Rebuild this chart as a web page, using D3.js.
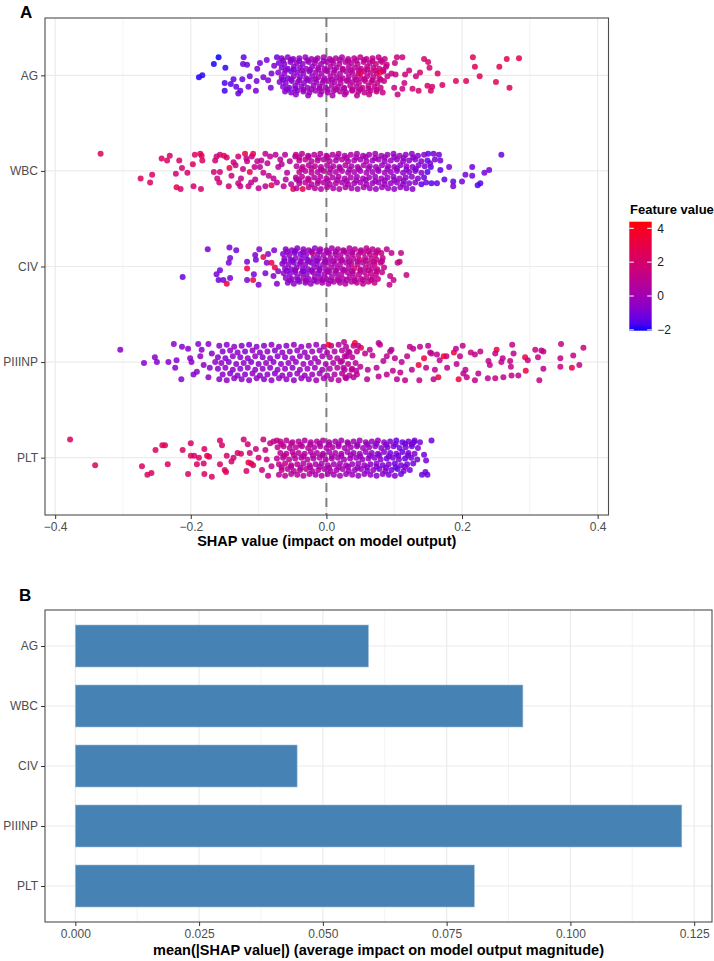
<!DOCTYPE html>
<html>
<head>
<meta charset="utf-8">
<script src="https://d3js.org/d3.v7.min.js"></script>
<style>
  body { margin: 0; background: #fff; }
  svg text { font-family: "Liberation Sans", Arial, sans-serif; }
</style>
</head>
<body>
<div id="chart"></div>
<script>
// features, top to bottom
var features = ["AG", "WBC", "CIV", "PIIINP", "PLT"];
// panel B: mean(|SHAP|) per feature
var meanAbsShap = [0.0592, 0.0904, 0.0448, 0.1225, 0.0806];

var shapTicks = [-0.4, -0.2, 0, 0.2, 0.4];
var shapMinor = [-0.3, -0.1, 0.1, 0.3];
var barTicks = [0, 0.025, 0.05, 0.075, 0.1, 0.125];
var barMinor = [0.0125, 0.0375, 0.0625, 0.0875, 0.1125];
var legendTicks = [-2, 0, 2, 4];

// panel A points: [shap value, vertical jitter, feature value]
var agPoints = [
  [-0.188,-0.02,-2.0],[-0.183,0.00,-1.9],[-0.166,0.12,-2.0],[-0.159,0.19,-2.1],[-0.149,0.08,-1.9],[-0.150,-0.08,-1.7],[-0.150,-0.16,-1.8],
  [-0.137,-0.04,-1.4],[-0.141,-0.09,-1.5],[-0.133,-0.12,-1.3],[-0.130,-0.19,-1.2],[-0.127,-0.16,-1.3],[-0.124,-0.04,-1.3],[-0.122,0.19,-1.4],
  [-0.123,0.12,-1.2],[-0.117,0.11,-1.2],[-0.115,-0.12,-1.1],[-0.113,-0.01,-1.2],[-0.104,-0.16,-1.0],[-0.103,-0.06,-1.1],[-0.102,0.07,-1.0],
  [-0.098,0.13,-1.1],[-0.093,-0.02,-0.9],[-0.088,0.16,-1.0],[-0.086,-0.05,-0.8],[-0.082,-0.13,-0.9],[-0.073,0.19,-1.2],[-0.077,0.10,-0.8],[-0.081,0.02,-1.0],
  [-0.066,0.18,-0.8],[-0.057,0.19,-0.5],[-0.049,0.17,-0.9],[-0.040,0.18,-0.3],[-0.031,0.19,-0.4],[-0.022,0.17,-0.1],[-0.013,0.18,0.1],[-0.004,0.19,0.3],[0.005,0.17,0.2],[0.014,0.18,0.5],[0.023,0.19,0.4],[0.032,0.17,0.8],[0.041,0.18,0.7],[0.050,0.19,1.0],[0.059,0.17,0.9],[0.068,0.18,1.2],[0.077,0.19,1.1],[0.086,0.17,1.3],
  [-0.070,0.13,-1.0],[-0.062,0.12,-0.6],[-0.053,0.14,-0.7],[-0.044,0.13,-0.4],[-0.035,0.12,-0.6],[-0.026,0.14,-0.2],[-0.017,0.13,0.0],[-0.008,0.12,-0.1],[0.001,0.14,0.3],[0.010,0.13,0.4],[0.019,0.12,0.6],[0.028,0.14,0.5],[0.037,0.13,0.8],[0.046,0.12,0.9],[0.055,0.14,1.1],[0.064,0.13,1.0],[0.073,0.12,1.3],[0.082,0.14,1.2],
  [-0.066,0.08,-0.9],[-0.057,0.07,-1.2],[-0.048,0.09,-0.5],[-0.039,0.08,-0.7],[-0.030,0.07,-0.2],[-0.021,0.09,-0.4],[-0.012,0.08,0.1],[-0.003,0.07,0.0],[0.006,0.09,0.4],[0.015,0.08,0.3],[0.024,0.07,0.7],[0.033,0.09,0.6],[0.042,0.08,0.9],[0.051,0.07,0.8],[0.060,0.09,1.1],[0.069,0.08,1.4],[0.078,0.07,1.2],[0.088,0.09,1.3],
  [-0.071,0.03,-0.7],[-0.062,0.02,-0.4],[-0.052,0.04,-1.1],[-0.043,0.03,-0.6],[-0.034,0.02,-0.3],[-0.025,0.04,-0.5],[-0.016,0.03,-0.1],[-0.007,0.02,0.2],[0.002,0.04,0.1],[0.011,0.03,0.5],[0.020,0.02,0.4],[0.029,0.04,0.7],[0.038,0.03,0.6],[0.047,0.02,1.0],[0.056,0.04,0.9],[0.065,0.03,1.2],[0.074,0.02,1.1],[0.084,0.04,1.4],
  [-0.066,-0.02,-0.6],[-0.057,-0.03,-1.0],[-0.048,-0.01,-0.4],[-0.039,-0.02,-0.8],[-0.030,-0.03,-0.2],[-0.021,-0.01,-0.3],[-0.012,-0.02,0.0],[-0.003,-0.03,0.2],[0.006,-0.01,0.3],[0.015,-0.02,0.2],[0.024,-0.03,0.6],[0.033,-0.01,0.5],[0.042,-0.02,0.8],[0.051,-0.03,1.0],[0.060,-0.01,0.9],[0.069,-0.02,1.1],[0.078,-0.03,1.3],[0.090,-0.01,1.2],
  [-0.069,-0.07,-0.8],[-0.060,-0.08,-0.5],[-0.051,-0.06,-0.9],[-0.042,-0.07,-0.3],[-0.033,-0.08,-0.6],[-0.024,-0.06,-0.1],[-0.015,-0.07,-0.2],[-0.006,-0.08,0.2],[0.003,-0.06,0.1],[0.012,-0.07,0.4],[0.021,-0.08,0.5],[0.030,-0.06,0.7],[0.039,-0.07,0.6],[0.048,-0.08,0.9],[0.057,-0.06,1.0],[0.066,-0.07,1.1],[0.075,-0.08,1.2],[0.085,-0.06,1.4],
  [-0.064,-0.12,-0.7],[-0.055,-0.13,-1.1],[-0.046,-0.11,-0.4],[-0.037,-0.12,-0.5],[-0.028,-0.13,-0.2],[-0.019,-0.11,-0.4],[-0.010,-0.12,0.1],[-0.001,-0.13,0.0],[0.008,-0.11,0.3],[0.017,-0.12,0.5],[0.026,-0.13,0.4],[0.035,-0.11,0.8],[0.044,-0.12,0.7],[0.053,-0.13,1.0],[0.062,-0.11,1.1],[0.071,-0.12,1.0],[0.080,-0.13,1.3],
  [-0.061,-0.17,-0.6],[-0.052,-0.18,-0.9],[-0.043,-0.16,-0.3],[-0.034,-0.17,-0.5],[-0.025,-0.18,-0.1],[-0.016,-0.16,0.0],[-0.007,-0.17,0.2],[0.002,-0.18,0.1],[0.011,-0.16,0.4],[0.020,-0.17,0.6],[0.029,-0.18,0.5],[0.038,-0.16,0.8],[0.047,-0.17,0.9],[0.056,-0.18,1.1],[0.065,-0.16,1.0],[0.074,-0.17,1.2],
  [-0.045,-0.20,-0.5],[-0.027,-0.21,-0.3],[-0.009,-0.20,0.0],[0.009,-0.21,0.3],[0.027,-0.20,0.6],[0.045,-0.21,0.8],[0.063,-0.20,1.1],
  [-0.064,0.155,-0.7],[-0.052,0.16,-0.4],[-0.040,0.15,-0.6],[-0.028,0.155,-0.2],[-0.016,0.16,0.0],[-0.004,0.15,-0.1],[0.008,0.155,0.4],[0.020,0.16,0.3],[0.032,0.15,0.7],[0.044,0.155,0.8],[0.056,0.16,1.0],[0.068,0.15,1.1],[0.080,0.155,1.3],
  [-0.060,0.055,-0.5],[-0.048,0.06,-0.8],[-0.036,0.05,-0.3],[-0.024,0.055,-0.5],[-0.012,0.06,0.1],[0.000,0.05,0.2],[0.012,0.055,0.3],[0.024,0.06,0.6],[0.036,0.05,0.5],[0.048,0.055,0.9],[0.060,0.06,1.0],[0.072,0.05,1.2],[0.084,0.055,1.1],
  [-0.064,-0.045,-0.9],[-0.052,-0.04,-0.5],[-0.040,-0.05,-0.4],[-0.028,-0.045,-0.6],[-0.016,-0.04,-0.1],[-0.004,-0.05,0.1],[0.008,-0.045,0.2],[0.020,-0.04,0.5],[0.032,-0.05,0.6],[0.044,-0.045,0.7],[0.056,-0.04,1.1],[0.068,-0.05,1.0],[0.080,-0.045,1.2],
  [-0.058,-0.145,-0.6],[-0.046,-0.14,-0.8],[-0.034,-0.15,-0.3],[-0.022,-0.145,-0.2],[-0.010,-0.14,0.0],[0.002,-0.15,0.2],[0.014,-0.145,0.4],[0.026,-0.14,0.5],[0.038,-0.15,0.7],[0.050,-0.145,0.9],[0.062,-0.14,1.0],[0.074,-0.15,1.2],
  [0.083,-0.18,1.3],[0.089,0.11,1.2],[0.079,0.03,3.0],[0.050,0.02,2.8],
  [0.104,0.19,1.5],[0.112,0.19,1.6],[0.101,0.13,1.4],[0.102,0.01,1.3],[0.100,-0.13,1.4],[0.096,0.02,1.2],[0.105,-0.20,1.3],[0.112,-0.14,1.5],[0.115,-0.08,1.4],
  [0.116,0.01,1.6],[0.122,0.05,1.7],[0.127,-0.14,1.8],[0.132,-0.01,1.7],[0.138,0.03,1.9],[0.136,-0.16,2.0],[0.144,0.17,1.9],[0.150,0.14,2.0],[0.152,0.08,1.8],
  [0.149,-0.11,2.0],[0.154,-0.16,2.1],[0.156,-0.12,2.0],[0.164,0.02,2.2],[0.171,-0.10,2.2],[0.191,-0.06,2.5],[0.206,-0.06,2.5],[0.216,0.19,2.6],[0.219,0.09,2.6],
  [0.226,-0.01,2.5],[0.250,-0.07,2.6],[0.255,0.09,2.7],[0.266,0.17,2.7],[0.270,-0.13,2.6],[0.284,0.18,2.8]
];

var wbcPoints = [
  [-0.333,0.18,2.4],[-0.274,-0.08,2.3],[-0.260,-0.12,2.2],[-0.257,-0.04,2.2],[-0.243,0.13,2.1],[-0.235,0.11,2.4],[-0.231,0.16,2.0],[-0.222,-0.03,2.0],
  [-0.221,-0.17,3.0],[-0.215,-0.19,2.2],[-0.217,0.11,2.1],[-0.213,0.03,1.9],[-0.205,-0.02,2.0],[-0.197,0.07,2.3],[-0.196,-0.16,2.0],[-0.194,0.17,2.2],
  [-0.186,0.18,3.0],[-0.184,0.16,2.4],[-0.185,-0.19,2.0],[-0.183,0.11,2.2],
  [-0.166,-0.01,1.8],[-0.164,0.11,1.6],[-0.162,0.15,1.9],[-0.161,-0.08,1.8],[-0.158,-0.12,1.6],[-0.157,-0.01,1.5],[-0.157,0.17,1.7],[-0.151,0.16,3.0],
  [-0.147,0.14,2.0],[-0.143,0.03,3.1],[-0.144,-0.16,1.6],[-0.137,0.09,1.7],[-0.130,0.15,1.5],[-0.130,-0.13,1.4],[-0.127,-0.16,1.2],[-0.123,0.02,1.3],
  [-0.120,0.18,3.1],[-0.117,0.10,1.4],[-0.113,-0.01,3.0],[-0.115,-0.16,1.3],[-0.110,0.15,1.2],[-0.108,0.18,2.9],[-0.105,-0.09,1.0],[-0.102,0.10,1.1],
  [-0.098,0.04,0.9],[-0.093,-0.02,1.0],[-0.090,0.18,1.1],[-0.090,-0.16,0.9],[-0.083,0.15,1.0],[-0.081,-0.15,2.6],[-0.078,-0.08,0.8],[-0.071,0.04,0.7],
  [-0.068,0.12,0.9],[-0.063,-0.16,0.8],[-0.061,0.17,0.7],[-0.058,-0.02,0.6],[-0.049,-0.19,3.0],[-0.046,0.15,0.6],[-0.044,-0.09,0.5],
  [-0.140,-0.05,1.5],[-0.134,0.06,1.4],[-0.126,-0.08,1.2],[-0.118,0.13,1.3],[-0.111,-0.12,1.1],[-0.106,0.04,1.2],[-0.100,-0.18,1.0],[-0.096,0.11,0.9],
  [-0.087,0.08,0.9],[-0.085,-0.05,1.0],[-0.075,0.17,0.8],[-0.073,-0.12,0.7],[-0.066,0.07,0.8],[-0.060,-0.09,0.7],[-0.054,0.10,0.6],[-0.052,-0.14,0.5],
  [-0.045,0.17,1.0],[-0.036,0.18,0.8],[-0.027,0.16,0.9],[-0.018,0.17,0.7],[-0.009,0.18,0.6],[0.000,0.16,0.7],[0.009,0.17,0.4],[0.018,0.18,0.5],[0.027,0.16,0.3],[0.036,0.17,0.4],[0.045,0.18,0.1],[0.054,0.16,0.3],[0.063,0.17,0.0],[0.072,0.18,0.1],[0.081,0.16,-0.2],[0.090,0.17,-0.1],[0.099,0.18,-0.3],[0.108,0.16,-0.2],[0.117,0.17,-0.5],[0.126,0.18,-0.4],[0.135,0.16,-0.7],[0.144,0.17,-0.6],[0.150,0.18,-1.4],
  [-0.040,0.11,0.9],[-0.031,0.12,1.1],[-0.022,0.10,0.7],[-0.013,0.11,0.8],[-0.004,0.12,0.5],[0.005,0.10,0.6],[0.014,0.11,0.3],[0.023,0.12,0.5],[0.032,0.10,0.2],[0.041,0.11,0.3],[0.050,0.12,0.0],[0.059,0.10,0.2],[0.068,0.11,-0.1],[0.077,0.12,0.0],[0.086,0.10,-0.3],[0.095,0.11,-0.2],[0.104,0.12,-0.4],[0.113,0.10,-0.3],[0.122,0.11,-0.6],[0.131,0.12,-0.5],[0.140,0.10,-0.8],[0.149,0.11,-1.3],[0.160,0.12,-1.0],
  [-0.044,0.05,0.8],[-0.035,0.04,1.0],[-0.026,0.06,0.6],[-0.017,0.05,0.9],[-0.008,0.04,0.5],[0.001,0.06,0.6],[0.010,0.05,0.4],[0.019,0.04,0.3],[0.028,0.06,0.5],[0.037,0.05,0.2],[0.046,0.04,0.1],[0.055,0.06,0.2],[0.064,0.05,-0.1],[0.073,0.04,0.0],[0.082,0.06,-0.2],[0.091,0.05,-0.3],[0.100,0.04,-0.2],[0.109,0.06,-0.5],[0.118,0.05,-0.4],[0.127,0.04,-0.6],[0.136,0.06,-0.7],[0.145,0.05,-0.9],[0.154,0.04,-1.5],
  [-0.040,-0.01,1.1],[-0.031,0.00,0.7],[-0.022,-0.02,0.8],[-0.013,-0.01,0.6],[-0.004,0.00,0.7],[0.005,-0.02,0.4],[0.014,-0.01,0.5],[0.023,0.00,0.3],[0.032,-0.02,0.2],[0.041,-0.01,0.3],[0.050,0.00,0.0],[0.059,-0.02,0.1],[0.068,-0.01,-0.1],[0.077,0.00,-0.2],[0.086,-0.02,-0.1],[0.095,-0.01,-0.4],[0.104,0.00,-0.3],[0.113,-0.02,-0.5],[0.122,-0.01,-0.6],[0.131,0.00,-0.8],[0.140,-0.02,-0.7],[0.149,-0.01,-1.6],
  [-0.045,-0.07,0.9],[-0.036,-0.06,0.7],[-0.027,-0.08,1.0],[-0.018,-0.07,0.6],[-0.009,-0.06,0.5],[0.000,-0.08,0.6],[0.009,-0.07,0.3],[0.018,-0.06,0.4],[0.027,-0.08,0.2],[0.036,-0.07,0.3],[0.045,-0.06,0.0],[0.054,-0.08,0.1],[0.063,-0.07,-0.1],[0.072,-0.06,-0.2],[0.081,-0.08,0.0],[0.090,-0.07,-0.3],[0.099,-0.06,-0.4],[0.108,-0.08,-0.3],[0.117,-0.07,-0.6],[0.126,-0.06,-0.5],[0.135,-0.08,-0.8],[0.144,-0.07,-1.2],
  [-0.040,-0.13,0.8],[-0.031,-0.12,0.9],[-0.022,-0.14,0.6],[-0.013,-0.13,0.7],[-0.004,-0.12,0.5],[0.005,-0.14,0.4],[0.014,-0.13,0.5],[0.023,-0.12,0.2],[0.032,-0.14,0.3],[0.041,-0.13,0.1],[0.050,-0.12,0.0],[0.059,-0.14,-0.1],[0.068,-0.13,0.0],[0.077,-0.12,-0.3],[0.086,-0.14,-0.2],[0.095,-0.13,-0.4],[0.104,-0.12,-0.5],[0.113,-0.14,-0.4],[0.122,-0.13,-0.7],[0.131,-0.12,-0.6],[0.140,-0.14,-1.5],[0.147,-0.12,-1.1],
  [-0.044,-0.18,0.7],[-0.035,-0.19,2.8],[-0.026,-0.17,0.8],[-0.017,-0.18,0.6],[-0.008,-0.19,0.5],[0.001,-0.17,0.6],[0.010,-0.18,0.3],[0.019,-0.19,0.4],[0.028,-0.17,0.2],[0.037,-0.18,0.1],[0.046,-0.19,0.0],[0.055,-0.17,0.2],[0.064,-0.18,-0.1],[0.073,-0.19,-0.2],[0.082,-0.17,-0.1],[0.091,-0.18,-0.3],[0.100,-0.19,-0.5],[0.109,-0.17,-0.4],[0.118,-0.18,-0.6],[0.127,-0.19,-0.7],
  [-0.040,0.14,0.9],[-0.026,0.145,0.7],[-0.012,0.135,0.6],[0.002,0.14,0.5],[0.016,0.145,0.4],[0.030,0.135,0.3],[0.044,0.14,0.1],[0.058,0.145,0.0],[0.072,0.135,-0.1],[0.086,0.14,-0.2],[0.100,0.145,-0.4],[0.114,0.135,-0.5],[0.128,0.14,-0.7],
  [-0.036,0.02,0.8],[-0.022,0.025,0.9],[-0.008,0.015,0.6],[0.006,0.02,0.5],[0.020,0.025,0.4],[0.034,0.015,0.2],[0.048,0.02,0.1],[0.062,0.025,0.0],[0.076,0.015,-0.2],[0.090,0.02,-0.3],[0.104,0.025,-0.5],[0.118,0.015,-0.6],[0.132,0.02,-0.8],
  [-0.040,-0.10,0.7],[-0.026,-0.095,0.8],[-0.012,-0.105,0.6],[0.002,-0.10,0.4],[0.016,-0.095,0.3],[0.030,-0.105,0.2],[0.044,-0.10,0.0],[0.058,-0.095,-0.1],[0.072,-0.105,-0.2],[0.086,-0.10,-0.3],[0.100,-0.095,-0.4],[0.114,-0.105,-0.6],
  [0.258,0.17,-1.3],[0.240,0.01,-1.2],[0.233,-0.02,-1.1],[0.227,-0.13,-1.5],[0.223,-0.15,-1.6],[0.215,0.04,-1.2],[0.215,-0.05,-1.2],[0.205,-0.04,-1.1],
  [0.200,-0.11,-1.0],[0.187,-0.11,-1.3],[0.187,-0.16,-0.9],[0.181,0.04,-0.9],[0.174,-0.09,-1.4],[0.168,0.01,-1.5],[0.168,0.11,-1.0],[0.166,0.17,-1.1],
  [0.163,-0.13,-1.2],[0.155,-0.13,-1.5],[0.158,0.18,-1.0],[0.153,0.08,-0.9]
];

var civPoints = [
  [-0.212,-0.11,-1.3],[-0.175,0.18,-1.0],[-0.162,-0.08,-1.0],[-0.157,-0.04,-1.1],[-0.159,-0.14,-1.2],[-0.152,-0.14,-1.0],[-0.147,-0.18,3.0],[-0.143,0.20,-1.1],
  [-0.142,0.09,-1.0],[-0.144,0.04,-0.9],[-0.142,-0.12,-1.1],[-0.133,0.17,-1.0],[-0.117,0.05,-0.9],[-0.117,-0.02,3.2],[-0.117,-0.14,-1.0],[-0.108,-0.14,3.0],
  [-0.107,-0.08,-1.1],[-0.104,0.07,-1.0],[-0.105,0.12,-0.9],[-0.099,0.18,-0.8],[-0.100,-0.19,-0.9],[-0.093,0.10,3.1],[-0.088,0.04,-0.8],[-0.090,-0.07,-0.9],
  [-0.086,0.13,-0.7],[-0.081,0.04,3.0],[-0.077,0.17,-0.8],[-0.076,-0.01,3.2],[-0.078,-0.10,-0.7],[-0.073,-0.18,-0.8],[-0.071,-0.05,-0.6],
  [-0.060,0.18,-0.6],[-0.051,0.17,-0.4],[-0.043,0.19,-0.7],[-0.034,0.18,-0.3],[-0.026,0.17,-0.2],[-0.017,0.19,-0.4],[-0.009,0.18,0.0],[0.000,0.17,0.2],[0.008,0.19,0.1],[0.017,0.18,0.4],[0.025,0.17,0.5],[0.034,0.19,0.6],[0.042,0.18,0.8],[0.051,0.17,0.7],[0.059,0.19,1.0],[0.068,0.18,0.9],[0.076,0.17,1.1],
  [-0.064,0.13,-0.8],[-0.055,0.12,-0.5],[-0.047,0.14,-0.6],[-0.038,0.13,-1.1],[-0.030,0.12,-0.3],[-0.021,0.14,2.4],[-0.013,0.13,-0.1],[-0.004,0.12,0.1],[0.004,0.14,0.3],[0.013,0.13,0.2],[0.021,0.12,0.5],[0.030,0.14,0.4],[0.038,0.13,0.7],[0.047,0.12,0.8],[0.055,0.14,0.9],[0.064,0.13,1.1],[0.072,0.12,1.0],[0.081,0.14,1.2],
  [-0.062,0.08,-0.5],[-0.053,0.07,-0.7],[-0.045,0.09,-0.4],[-0.036,0.08,-0.6],[-0.028,0.07,-1.2],[-0.019,0.09,-0.2],[-0.011,0.08,0.0],[-0.002,0.07,-0.1],[0.006,0.09,0.2],[0.015,0.08,0.4],[0.023,0.07,0.3],[0.032,0.09,0.6],[0.040,0.08,0.7],[0.049,0.07,2.3],[0.057,0.09,0.9],[0.066,0.08,1.0],[0.074,0.07,1.2],[0.083,0.09,1.1],
  [-0.065,0.03,-0.7],[-0.056,0.02,-0.4],[-0.048,0.04,-0.6],[-0.039,0.03,-0.3],[-0.031,0.02,-0.5],[-0.022,0.04,-1.0],[-0.014,0.03,-0.1],[-0.005,0.02,0.0],[0.003,0.04,0.2],[0.012,0.03,0.3],[0.020,0.02,0.5],[0.029,0.04,0.4],[0.037,0.03,0.6],[0.046,0.02,0.8],[0.054,0.04,0.7],[0.063,0.03,1.0],[0.071,0.02,1.1],[0.080,0.04,1.3],
  [-0.061,-0.02,-0.6],[-0.052,-0.03,-0.8],[-0.044,-0.01,-0.5],[-0.035,-0.02,-0.3],[-0.027,-0.03,-0.6],[-0.018,-0.01,-0.2],[-0.010,-0.02,-1.1],[-0.001,-0.03,0.1],[0.007,-0.01,0.2],[0.016,-0.02,0.4],[0.024,-0.03,0.3],[0.033,-0.01,0.6],[0.041,-0.02,2.2],[0.050,-0.03,0.8],[0.058,-0.01,0.9],[0.067,-0.02,1.1],[0.075,-0.03,1.0],[0.085,-0.01,1.2],
  [-0.063,-0.07,-0.4],[-0.054,-0.08,-0.6],[-0.046,-0.06,-0.7],[-0.037,-0.07,-0.3],[-0.029,-0.08,-0.5],[-0.020,-0.06,-0.1],[-0.012,-0.07,-0.9],[-0.003,-0.08,0.1],[0.005,-0.06,0.3],[0.014,-0.07,0.2],[0.022,-0.08,0.5],[0.031,-0.06,0.6],[0.039,-0.07,0.5],[0.048,-0.08,0.8],[0.056,-0.06,0.9],[0.065,-0.07,1.1],[0.073,-0.08,1.0],[0.082,-0.06,1.3],
  [-0.060,-0.12,-0.5],[-0.051,-0.13,-0.7],[-0.043,-0.11,-0.4],[-0.034,-0.12,-0.2],[-0.026,-0.13,-0.4],[-0.017,-0.11,-0.1],[-0.009,-0.12,0.0],[0.000,-0.13,0.2],[0.008,-0.11,0.1],[0.017,-0.12,0.4],[0.025,-0.13,0.5],[0.034,-0.11,0.6],[0.042,-0.12,0.8],[0.051,-0.13,0.7],[0.059,-0.11,1.0],[0.068,-0.12,1.2],[0.076,-0.13,1.1],
  [-0.057,-0.17,-0.6],[-0.048,-0.18,-0.4],[-0.040,-0.16,-0.5],[-0.031,-0.17,-0.2],[-0.023,-0.18,-0.3],[-0.014,-0.16,0.0],[-0.006,-0.17,0.1],[0.003,-0.18,0.2],[0.011,-0.16,0.4],[0.020,-0.17,0.3],[0.028,-0.18,0.6],[0.037,-0.16,0.7],[0.045,-0.17,0.9],[0.054,-0.18,0.8],[0.062,-0.16,1.0],[0.071,-0.17,1.2],
  [-0.058,0.155,-0.5],[-0.046,0.16,-0.7],[-0.034,0.15,-0.4],[-0.022,0.155,-0.2],[-0.010,0.16,-0.1],[0.002,0.15,0.1],[0.014,0.155,0.3],[0.026,0.16,0.5],[0.038,0.15,0.6],[0.050,0.155,0.8],[0.062,0.16,1.0],[0.074,0.15,1.1],
  [-0.062,0.055,-0.6],[-0.050,0.06,-0.9],[-0.038,0.05,-0.4],[-0.026,0.055,-0.3],[-0.014,0.06,-0.6],[-0.002,0.05,0.0],[0.010,0.055,0.2],[0.022,0.06,0.4],[0.034,0.05,0.5],[0.046,0.055,0.7],[0.058,0.06,0.9],[0.070,0.05,1.2],[0.082,0.055,1.0],
  [-0.058,-0.045,-0.7],[-0.046,-0.04,-0.4],[-0.034,-0.05,-1.0],[-0.022,-0.045,-0.3],[-0.010,-0.04,-0.1],[0.002,-0.05,0.1],[0.014,-0.045,0.3],[0.026,-0.04,0.4],[0.038,-0.05,0.6],[0.050,-0.045,0.8],[0.062,-0.04,0.9],[0.074,-0.05,1.1],
  [-0.054,-0.145,-0.5],[-0.042,-0.14,-0.6],[-0.030,-0.15,-0.2],[-0.018,-0.145,-0.4],[-0.006,-0.14,0.0],[0.006,-0.15,0.2],[0.018,-0.145,0.4],[0.030,-0.14,0.5],[0.042,-0.15,0.7],[0.054,-0.145,0.9],[0.066,-0.14,1.1],
  [0.118,-0.09,1.4],[0.110,0.14,1.3],[0.105,0.04,1.2],[0.108,0.05,1.4],[0.099,-0.14,1.3],[0.094,-0.10,1.1],[0.096,0.14,1.2],[0.089,0.18,1.0],[0.093,-0.19,1.2]
];

var piiinpPoints = [
  [-0.304,0.13,-0.6],[-0.269,-0.01,-0.7],[-0.253,0.05,-0.6],[-0.250,0.00,-0.8],[-0.233,0.00,-0.7],[-0.223,-0.06,-0.6],[-0.221,0.02,-0.7],[-0.225,0.19,-0.5],
  [-0.214,-0.18,-0.6],[-0.213,0.16,-0.7],[-0.204,0.14,-0.6],[-0.201,0.04,-0.5],[-0.199,0.00,-0.7],[-0.196,-0.13,-0.8],[-0.191,-0.10,-0.6],[-0.189,0.19,-0.6],
  [-0.186,0.06,-0.5],[-0.184,0.13,-0.7],[-0.181,-0.03,-0.6],[-0.174,0.19,-0.5],[-0.174,-0.16,-0.6],[-0.172,-0.06,-0.7],[-0.169,0.09,-0.6],[-0.164,0.00,-0.5],
  [-0.158,0.17,-0.6],[-0.147,0.18,-0.7],[-0.136,0.16,-0.5],[-0.125,0.17,-0.6],[-0.114,0.18,-0.8],[-0.103,0.16,-0.5],[-0.092,0.17,-0.6],[-0.081,0.18,-0.4],[-0.070,0.16,-0.5],[-0.059,0.17,-0.6],[-0.048,0.18,-0.3],[-0.037,0.16,-0.4],[-0.026,0.17,-0.2],[-0.015,0.18,-0.3],[-0.004,0.16,0.0],[0.007,0.17,0.3],[0.018,0.18,0.5],[0.029,0.16,0.6],[0.040,0.17,0.8],
  [-0.153,0.11,-0.7],[-0.142,0.12,-0.5],[-0.131,0.10,-0.6],[-0.120,0.11,-0.7],[-0.109,0.12,-0.4],[-0.098,0.10,-0.6],[-0.087,0.11,-0.5],[-0.076,0.12,-0.7],[-0.065,0.10,-0.4],[-0.054,0.11,-0.5],[-0.043,0.12,-0.3],[-0.032,0.10,-0.4],[-0.021,0.11,-0.1],[-0.010,0.12,-0.2],[0.001,0.10,0.2],[0.012,0.11,0.4],[0.023,0.12,0.6],[0.034,0.10,0.7],[0.045,0.11,0.9],
  [-0.160,0.05,-0.6],[-0.149,0.04,-0.8],[-0.138,0.06,-0.5],[-0.127,0.05,-0.6],[-0.116,0.04,-0.7],[-0.105,0.06,-0.4],[-0.094,0.05,-0.6],[-0.083,0.04,-0.5],[-0.072,0.06,-0.7],[-0.061,0.05,-0.4],[-0.050,0.04,-0.3],[-0.039,0.06,-0.5],[-0.028,0.05,-0.2],[-0.017,0.04,-0.1],[-0.006,0.06,0.1],[0.005,0.05,0.3],[0.016,0.04,0.4],[0.027,0.06,0.7],[0.038,0.05,0.8],
  [-0.155,-0.01,-0.5],[-0.144,0.00,-0.7],[-0.133,-0.02,-0.6],[-0.122,-0.01,-0.5],[-0.111,0.00,-0.8],[-0.100,-0.02,-0.6],[-0.089,-0.01,-0.4],[-0.078,0.00,-0.6],[-0.067,-0.02,-0.5],[-0.056,-0.01,-0.3],[-0.045,0.00,-0.4],[-0.034,-0.02,-0.2],[-0.023,-0.01,-0.3],[-0.012,0.00,0.0],[-0.001,-0.02,0.1],[0.010,-0.01,0.4],[0.021,0.00,0.5],[0.032,-0.02,0.7],[0.043,-0.01,0.9],
  [-0.160,-0.07,-0.7],[-0.149,-0.06,-0.5],[-0.138,-0.08,-0.6],[-0.127,-0.07,-0.7],[-0.116,-0.06,-0.5],[-0.105,-0.08,-0.6],[-0.094,-0.07,-0.4],[-0.083,-0.06,-0.6],[-0.072,-0.08,-0.5],[-0.061,-0.07,-0.4],[-0.050,-0.06,-0.6],[-0.039,-0.08,-0.3],[-0.028,-0.07,-0.2],[-0.017,-0.06,-0.3],[-0.006,-0.08,0.0],[0.005,-0.07,0.2],[0.016,-0.06,0.5],[0.027,-0.08,0.6],[0.038,-0.07,0.8],
  [-0.153,-0.13,-0.6],[-0.142,-0.12,-0.7],[-0.131,-0.14,-0.5],[-0.120,-0.13,-0.6],[-0.109,-0.12,-0.4],[-0.098,-0.14,-0.7],[-0.087,-0.13,-0.5],[-0.076,-0.12,-0.6],[-0.065,-0.14,-0.4],[-0.054,-0.13,-0.5],[-0.043,-0.12,-0.3],[-0.032,-0.14,-0.4],[-0.021,-0.13,-0.1],[-0.010,-0.12,-0.2],[0.001,-0.14,0.2],[0.012,-0.13,0.4],[0.023,-0.12,0.5],[0.034,-0.14,0.7],[0.045,-0.13,0.9],
  [-0.158,-0.18,-0.6],[-0.147,-0.19,-0.4],[-0.136,-0.17,-0.7],[-0.125,-0.18,-0.5],[-0.114,-0.19,-0.6],[-0.103,-0.17,-0.4],[-0.092,-0.18,-0.6],[-0.081,-0.19,-0.5],[-0.070,-0.17,-0.3],[-0.059,-0.18,-0.5],[-0.048,-0.19,-0.4],[-0.037,-0.17,-0.2],[-0.026,-0.18,-0.3],[-0.015,-0.19,0.0],[-0.004,-0.17,0.1],[0.007,-0.18,0.3],[0.018,-0.19,0.6],[0.029,-0.17,0.7],
  [0.003,0.18,3.6],
  [0.379,0.15,1.4],[0.373,-0.03,1.3],[0.364,0.07,1.4],[0.362,-0.06,3.0],[0.346,0.19,1.3],[0.345,0.04,1.2],[0.345,-0.05,1.4],[0.320,0.11,1.1],[0.317,0.12,1.0],
  [0.320,-0.07,0.8],[0.312,0.05,1.2],[0.314,-0.19,1.3],[0.308,0.13,1.4],[0.297,0.02,1.1],[0.293,0.05,3.0],[0.294,-0.09,3.1],[0.283,-0.14,1.2],[0.276,0.09,1.0],
  [0.274,0.18,1.3],[0.272,-0.05,1.1],[0.273,-0.14,1.0],[0.271,0.01,1.2],[0.260,0.04,0.9],[0.258,0.00,1.1],[0.261,-0.16,1.0],[0.251,0.13,3.0],[0.249,0.09,1.1],
  [0.249,-0.17,1.2],[0.239,0.01,1.0],[0.241,-0.03,1.1],[0.238,-0.17,1.0],[0.227,0.11,1.2],[0.219,0.08,1.0],[0.224,-0.12,0.9],[0.219,-0.19,1.1],[0.213,0.10,1.3],
  [0.205,-0.08,1.0],[0.202,-0.12,0.9],[0.207,-0.16,1.1],[0.201,0.17,1.2],[0.195,-0.18,3.3],[0.192,-0.02,1.0],[0.197,0.06,1.1],[0.188,0.10,3.2],[0.191,0.14,1.0],
  [0.178,-0.06,0.9],[0.177,0.06,1.1],[0.173,0.06,3.4],[0.167,0.02,1.0],[0.165,-0.16,3.3],[0.163,0.08,0.9],[0.160,-0.08,1.0],[0.158,-0.18,1.1],[0.150,0.17,1.0],
  [0.153,0.10,0.9],[0.155,0.09,1.1],[0.147,-0.06,1.0],[0.144,0.04,3.4],[0.136,-0.03,3.3],[0.138,0.16,1.0],[0.137,-0.19,1.1],[0.128,0.14,0.9],[0.123,0.16,1.0],
  [0.126,-0.08,0.8],[0.119,0.06,1.0],[0.116,-0.19,1.1],[0.111,0.00,0.9],[0.109,-0.11,1.0],[0.104,-0.18,0.8],[0.101,0.04,0.9],[0.098,-0.09,1.0],[0.096,0.13,0.8],
  [0.094,0.11,0.9],[0.089,-0.13,1.0],[0.089,0.06,0.8],[0.084,0.01,0.9],[0.077,0.20,0.8],[0.079,0.18,1.0],[0.074,-0.06,0.9],[0.077,-0.15,0.8],[0.068,0.07,0.9],
  [0.064,0.13,1.0],[0.061,-0.08,0.8],[0.060,-0.18,0.9],[0.057,0.09,0.8],[0.051,0.15,3.3],[0.050,-0.05,0.9],[0.047,0.17,0.8],[0.042,0.20,3.2],[0.044,-0.09,0.7],
  [0.040,-0.16,0.8],[0.037,-0.08,0.9],[0.032,0.11,0.8],[0.030,0.06,0.7],[0.028,-0.16,0.8],[0.026,0.21,0.9],[0.025,-0.06,0.7],[0.023,0.01,0.8]
];

var pltPoints = [
  [-0.378,0.19,2.5],[-0.341,-0.08,2.4],[-0.272,-0.09,2.3],[-0.264,-0.18,2.4],[-0.258,-0.16,2.2],[-0.252,0.08,2.3],[-0.242,0.13,2.5],[-0.238,0.13,2.6],
  [-0.234,-0.07,2.2],[-0.212,0.08,2.3],[-0.204,-0.17,2.2],[-0.200,0.15,2.0],[-0.200,0.02,2.4],[-0.195,0.02,2.1],[-0.191,-0.07,2.3],[-0.181,-0.06,2.0],
  [-0.188,0.00,2.2],[-0.180,0.09,2.1],[-0.180,-0.17,2.2],[-0.176,0.02,3.0],[-0.173,0.01,2.6],[-0.169,-0.20,2.3],[-0.157,0.18,2.0],[-0.154,0.13,2.2],
  [-0.157,-0.07,2.1],[-0.150,-0.13,2.4],[-0.148,-0.15,2.5],[-0.147,0.02,2.0],[-0.140,-0.04,2.1],[-0.137,0.00,1.9],[-0.131,0.05,2.0],[-0.126,0.04,2.2],
  [-0.122,0.19,1.8],[-0.118,-0.14,2.3],[-0.115,-0.05,3.0],[-0.111,-0.06,2.7],[-0.108,-0.08,2.4],[-0.116,0.14,1.6],[-0.113,0.05,1.5],[-0.104,0.09,1.4],
  [-0.100,0.00,1.5],[-0.095,-0.13,1.6],[-0.093,0.19,1.3],[-0.090,0.08,1.2],[-0.088,-0.02,1.3],[-0.083,0.15,1.3],[-0.078,0.17,1.2],[-0.073,0.18,1.1],
  [-0.086,-0.19,1.4],[-0.081,-0.09,1.2],
  [-0.068,0.17,1.0],[-0.059,0.18,0.8],[-0.050,0.16,0.9],[-0.041,0.17,0.7],[-0.032,0.18,0.6],[-0.023,0.16,0.5],[-0.014,0.17,0.6],[-0.005,0.18,0.3],[0.004,0.16,0.4],[0.013,0.17,0.2],[0.022,0.18,0.1],[0.031,0.16,0.2],[0.040,0.17,0.0],[0.049,0.18,-0.1],[0.058,0.16,0.0],[0.067,0.17,-0.3],[0.076,0.18,-0.2],[0.085,0.16,-0.5],[0.094,0.17,-0.9],[0.103,0.18,-1.3],[0.112,0.16,-1.2],[0.121,0.17,-0.8],[0.130,0.18,-0.9],
  [-0.072,0.11,1.1],[-0.063,0.12,0.9],[-0.054,0.10,0.8],[-0.045,0.11,0.9],[-0.036,0.12,0.6],[-0.027,0.10,0.7],[-0.018,0.11,0.5],[-0.009,0.12,0.4],[0.000,0.10,0.3],[0.009,0.11,0.4],[0.018,0.12,0.1],[0.027,0.10,0.2],[0.036,0.11,0.0],[0.045,0.12,-0.2],[0.054,0.10,-0.1],[0.063,0.11,-0.3],[0.072,0.12,-0.4],[0.081,0.10,-0.6],[0.090,0.11,-1.0],[0.099,0.12,-0.7],[0.108,0.10,-1.1],[0.117,0.11,-0.8],[0.126,0.12,-1.2],[0.135,0.10,-0.9],
  [-0.068,0.05,0.9],[-0.059,0.04,1.0],[-0.050,0.06,0.8],[-0.041,0.05,0.7],[-0.032,0.04,0.5],[-0.023,0.06,0.6],[-0.014,0.05,0.4],[-0.005,0.04,0.3],[0.004,0.06,0.2],[0.013,0.05,0.3],[0.022,0.04,0.0],[0.031,0.06,0.1],[0.040,0.05,-0.2],[0.049,0.04,-0.1],[0.058,0.06,-0.3],[0.067,0.05,-0.5],[0.076,0.04,-0.8],[0.085,0.06,-0.6],[0.094,0.05,-1.1],[0.103,0.04,-0.8],[0.112,0.06,-1.3],[0.121,0.05,-1.0],[0.130,0.04,-0.8],
  [-0.073,-0.01,1.0],[-0.064,0.00,0.8],[-0.055,-0.02,0.9],[-0.046,-0.01,0.6],[-0.037,0.00,0.7],[-0.028,-0.02,0.5],[-0.019,-0.01,0.4],[-0.010,0.00,0.3],[-0.001,-0.02,0.4],[0.008,-0.01,0.1],[0.017,0.00,0.2],[0.026,-0.02,0.0],[0.035,-0.01,-0.1],[0.044,0.00,-0.2],[0.053,-0.02,-0.4],[0.062,-0.01,-0.3],[0.071,0.00,-0.7],[0.080,-0.02,-0.5],[0.089,-0.01,-1.2],[0.098,0.00,-0.9],[0.107,-0.02,-0.7],[0.116,-0.01,-1.4],[0.125,0.00,-1.0],[0.134,-0.02,-0.9],
  [-0.070,-0.07,0.9],[-0.061,-0.06,1.1],[-0.052,-0.08,0.7],[-0.043,-0.07,0.8],[-0.034,-0.06,0.6],[-0.025,-0.08,0.5],[-0.016,-0.07,0.4],[-0.007,-0.06,0.2],[0.002,-0.08,0.3],[0.011,-0.07,0.1],[0.020,-0.06,0.0],[0.029,-0.08,0.1],[0.038,-0.07,-0.2],[0.047,-0.06,-0.1],[0.056,-0.08,-0.4],[0.065,-0.07,-0.6],[0.074,-0.06,-0.5],[0.083,-0.08,-0.9],[0.092,-0.07,-0.7],[0.101,-0.06,-1.2],[0.110,-0.08,-1.0],[0.119,-0.07,-0.8],[0.128,-0.06,-1.1],
  [-0.066,-0.13,0.8],[-0.057,-0.12,0.9],[-0.048,-0.14,0.7],[-0.039,-0.13,0.6],[-0.030,-0.12,0.7],[-0.021,-0.14,0.4],[-0.012,-0.13,0.5],[-0.003,-0.12,0.2],[0.006,-0.14,0.3],[0.015,-0.13,0.0],[0.024,-0.12,0.1],[0.033,-0.14,-0.1],[0.042,-0.13,-0.3],[0.051,-0.12,-0.2],[0.060,-0.14,-0.5],[0.069,-0.13,-0.4],[0.078,-0.12,-0.8],[0.087,-0.14,-0.6],[0.096,-0.13,-1.0],[0.105,-0.12,-1.3],[0.114,-0.14,-0.9],[0.123,-0.13,-1.1],
  [-0.070,-0.18,1.0],[-0.061,-0.19,0.8],[-0.052,-0.17,0.7],[-0.043,-0.18,0.8],[-0.034,-0.19,0.5],[-0.025,-0.17,0.6],[-0.016,-0.18,0.3],[-0.007,-0.19,0.4],[0.002,-0.17,0.2],[0.011,-0.18,0.0],[0.020,-0.19,0.1],[0.029,-0.17,-0.2],[0.038,-0.18,-0.1],[0.047,-0.19,-0.3],[0.056,-0.17,-0.5],[0.065,-0.18,-0.4],[0.074,-0.19,-0.7],[0.083,-0.17,-0.6],[0.092,-0.18,-1.0],[0.101,-0.19,-0.8],[0.110,-0.17,-1.1],
  [-0.066,0.14,1.0],[-0.052,0.145,0.8],[-0.038,0.135,0.7],[-0.024,0.14,0.5],[-0.010,0.145,0.4],[0.004,0.135,0.3],[0.018,0.14,0.1],[0.032,0.145,0.0],[0.046,0.135,-0.2],[0.060,0.14,-0.4],[0.074,0.145,-0.6],[0.088,0.135,-0.8],[0.102,0.14,-1.0],[0.116,0.145,-1.2],
  [-0.062,0.02,0.9],[-0.048,0.025,0.8],[-0.034,0.015,0.6],[-0.020,0.02,0.5],[-0.006,0.025,0.3],[0.008,0.015,0.2],[0.022,0.02,0.0],[0.036,0.025,-0.1],[0.050,0.015,-0.3],[0.064,0.02,-0.5],[0.078,0.025,-0.7],[0.092,0.015,-1.0],[0.106,0.02,-1.1],[0.120,0.025,-0.9],
  [-0.066,-0.10,1.0],[-0.052,-0.095,0.7],[-0.038,-0.105,0.6],[-0.024,-0.10,0.5],[-0.010,-0.095,0.3],[0.004,-0.105,0.2],[0.018,-0.10,0.1],[0.032,-0.095,-0.1],[0.046,-0.105,-0.3],[0.060,-0.10,-0.4],[0.074,-0.095,-0.7],[0.088,-0.105,-0.9],[0.102,-0.10,-1.1],[0.116,-0.095,-1.0],
  [0.155,0.18,-1.2],[0.149,-0.18,-1.1],[0.146,-0.15,-1.2],[0.147,-0.03,-1.0],[0.144,0.03,-1.1],[0.138,0.16,-0.9],[0.141,-0.18,-1.3],[0.129,0.16,-1.4],[0.126,0.14,-1.0]
];

var pointsByFeature = [agPoints, wbcPoints, civPoints, piiinpPoints, pltPoints];

var W = 714, H = 961;
var svg = d3.select("#chart").append("svg")
    .attr("width", W).attr("height", H)
    .style("display", "block")
    .style("background", "#fff");

var gridCol = "#ebebeb", tickCol = "#333333", labCol = "#4d4d4d";

// feature value -> colour (blue .. red, Lab interpolation like ggplot)
var valueMin = -2.05, valueMax = 4.39;
var color = d3.scaleSequential(d3.interpolateLab("#0000ff", "#ff0000")).domain([valueMin, valueMax]);

function styleAxis(g) {
  g.select(".domain").remove();
  g.selectAll(".tick line").attr("stroke", tickCol).attr("stroke-width", 1);
  g.selectAll(".tick text").attr("fill", labCol).style("font-size", "12px");
}

// ---------------- Panel A ----------------
var aLeft = 45, aRight = 608.5, aTop = 18, aBottom = 515;
var x = d3.scaleLinear().domain([-0.415, 0.416]).range([aLeft, aRight]);
// category position: AG = 5 (top) ... PLT = 1 (bottom)
var yA = d3.scaleLinear().domain([0.4, 5.6]).range([aBottom, aTop]);
function catPos(i) { return features.length - i; }

var gA = svg.append("g");
gA.selectAll(".minorA").data(shapMinor).enter().append("line")
  .attr("x1", d => x(d)).attr("x2", d => x(d)).attr("y1", aTop).attr("y2", aBottom)
  .attr("stroke", gridCol).attr("stroke-width", 0.6);
gA.selectAll(".majorA").data(shapTicks).enter().append("line")
  .attr("x1", d => x(d)).attr("x2", d => x(d)).attr("y1", aTop).attr("y2", aBottom)
  .attr("stroke", gridCol).attr("stroke-width", 1.2);
gA.selectAll(".hA").data(features).enter().append("line")
  .attr("x1", aLeft).attr("x2", aRight)
  .attr("y1", (d, i) => yA(catPos(i))).attr("y2", (d, i) => yA(catPos(i)))
  .attr("stroke", gridCol).attr("stroke-width", 1.2);

// zero reference line
gA.append("line")
  .attr("x1", x(0)).attr("x2", x(0)).attr("y1", aTop).attr("y2", aBottom)
  .attr("stroke", "#808080").attr("stroke-width", 2).attr("stroke-dasharray", "9,6");

// points
pointsByFeature.forEach(function(pts, i) {
  gA.append("g").selectAll("circle").data(pts).enter().append("circle")
    .attr("cx", d => x(d[0]))
    .attr("cy", d => yA(catPos(i) + d[1]))
    .attr("r", 3)
    .attr("fill", d => color(d[2]))
    .attr("fill-opacity", 0.85);
});

gA.append("rect").attr("x", aLeft).attr("y", aTop)
  .attr("width", aRight - aLeft).attr("height", aBottom - aTop)
  .attr("fill", "none").attr("stroke", "#4d4d4d").attr("stroke-width", 1.1);

gA.append("g").attr("transform", "translate(0," + aBottom + ")")
  .call(d3.axisBottom(x).tickValues(shapTicks).tickSize(4).tickPadding(3).tickFormat(d3.format(".1f")))
  .call(styleAxis);
gA.append("g").attr("transform", "translate(" + aLeft + ",0)")
  .call(d3.axisLeft(yA).tickValues([1, 2, 3, 4, 5]).tickSize(4).tickPadding(3)
    .tickFormat(d => features[features.length - d]))
  .call(styleAxis);

gA.append("text").attr("x", (aLeft + aRight) / 2).attr("y", 546)
  .attr("text-anchor", "middle").style("font-size", "14.5px").style("font-weight", "bold")
  .attr("fill", "#000").text("SHAP value (impact on model output)");

gA.append("text").attr("x", 20).attr("y", 17.5)
  .style("font-size", "17px").style("font-weight", "bold").text("A");

// legend
var lgX = 629.3, lgW = 22.4, lgTop = 221.7, lgBottom = 330.7;
var yL = d3.scaleLinear().domain([valueMin, valueMax]).range([lgBottom, lgTop]);
var defs = svg.append("defs");
var grad = defs.append("linearGradient").attr("id", "fvgrad")
  .attr("x1", 0).attr("y1", 1).attr("x2", 0).attr("y2", 0);
d3.range(0, 1.0001, 0.05).forEach(function(t) {
  grad.append("stop").attr("offset", t)
    .attr("stop-color", color(valueMin + t * (valueMax - valueMin)));
});
svg.append("text").attr("x", 630).attr("y", 214)
  .style("font-size", "13px").style("font-weight", "bold").text("Feature value");
svg.append("rect").attr("x", lgX).attr("y", lgTop).attr("width", lgW)
  .attr("height", lgBottom - lgTop).attr("fill", "url(#fvgrad)");
var lgTicks = svg.append("g").selectAll("g").data(legendTicks).enter().append("g");
lgTicks.append("line").attr("x1", lgX).attr("x2", lgX + 4.5)
  .attr("y1", d => yL(d)).attr("y2", d => yL(d)).attr("stroke", "#fff").attr("stroke-width", 1);
lgTicks.append("line").attr("x1", lgX + lgW - 4.5).attr("x2", lgX + lgW)
  .attr("y1", d => yL(d)).attr("y2", d => yL(d)).attr("stroke", "#fff").attr("stroke-width", 1);
lgTicks.append("text").attr("x", lgX + lgW + 5.5).attr("y", d => yL(d)).attr("dy", "0.35em")
  .style("font-size", "12px").attr("fill", "#1a1a1a").text(d => d3.format("d")(d));

// ---------------- Panel B ----------------
var bLeft = 45, bRight = 712, bTop = 610, bBottom = 922;
var xB = d3.scaleLinear().domain([-0.006125, 0.1286]).range([bLeft, bRight]);
var yB = d3.scaleLinear().domain([0.4, 5.6]).range([bBottom, bTop]);
var bandH = yB(0) - yB(0.7);

var gB = svg.append("g");
gB.selectAll(".minorB").data(barMinor).enter().append("line")
  .attr("x1", d => xB(d)).attr("x2", d => xB(d)).attr("y1", bTop).attr("y2", bBottom)
  .attr("stroke", gridCol).attr("stroke-width", 0.6);
gB.selectAll(".majorB").data(barTicks).enter().append("line")
  .attr("x1", d => xB(d)).attr("x2", d => xB(d)).attr("y1", bTop).attr("y2", bBottom)
  .attr("stroke", gridCol).attr("stroke-width", 1.2);
gB.selectAll(".hB").data(features).enter().append("line")
  .attr("x1", bLeft).attr("x2", bRight)
  .attr("y1", (d, i) => yB(catPos(i))).attr("y2", (d, i) => yB(catPos(i)))
  .attr("stroke", gridCol).attr("stroke-width", 1.2);

gB.selectAll(".bar").data(meanAbsShap).enter().append("rect")
  .attr("x", xB(0))
  .attr("y", (d, i) => yB(catPos(i) + 0.35))
  .attr("width", d => xB(d) - xB(0))
  .attr("height", bandH)
  .attr("fill", "#4682b4")
  .attr("stroke", "#9dbdd9").attr("stroke-width", 0.6);

gB.append("rect").attr("x", bLeft).attr("y", bTop)
  .attr("width", bRight - bLeft).attr("height", bBottom - bTop)
  .attr("fill", "none").attr("stroke", "#4d4d4d").attr("stroke-width", 1.1);

gB.append("g").attr("transform", "translate(0," + bBottom + ")")
  .call(d3.axisBottom(xB).tickValues(barTicks).tickSize(4).tickPadding(3).tickFormat(d3.format(".3f")))
  .call(styleAxis);
gB.append("g").attr("transform", "translate(" + bLeft + ",0)")
  .call(d3.axisLeft(yB).tickValues([1, 2, 3, 4, 5]).tickSize(4).tickPadding(3)
    .tickFormat(d => features[features.length - d]))
  .call(styleAxis);

gB.append("text").attr("x", (bLeft + bRight) / 2).attr("y", 955)
  .attr("text-anchor", "middle").style("font-size", "14.5px").style("font-weight", "bold")
  .attr("fill", "#000").text("mean(|SHAP value|) (average impact on model output magnitude)");

gB.append("text").attr("x", 19).attr("y", 600.5)
  .style("font-size", "17px").style("font-weight", "bold").text("B");
</script>
</body>
</html>
